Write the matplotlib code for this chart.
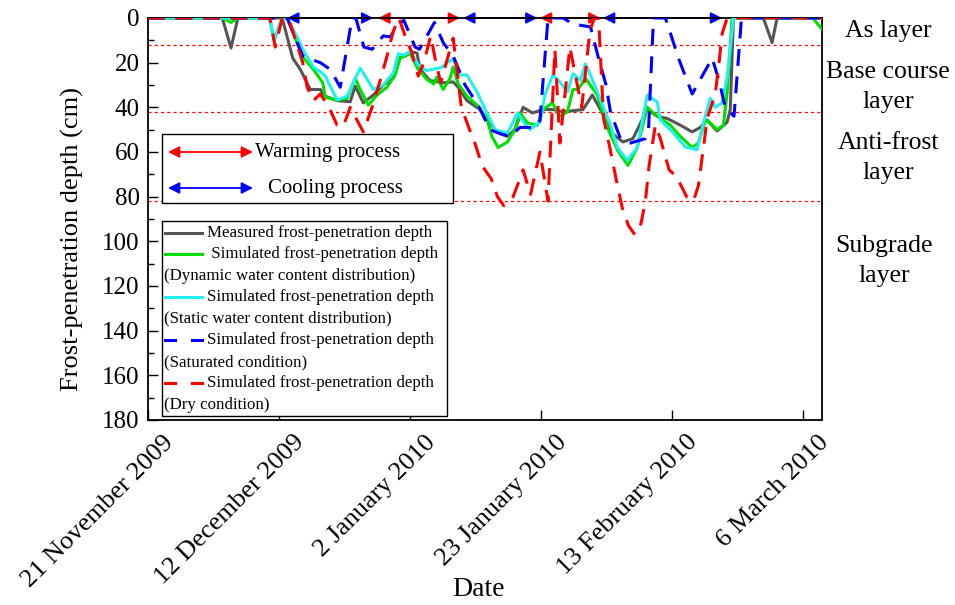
import numpy as np
import matplotlib
matplotlib.use("Agg")
import matplotlib.pyplot as plt
import matplotlib.dates as mdates
import matplotlib.transforms as mtransforms
from matplotlib.patches import Rectangle
from matplotlib.lines import Line2D

plt.rcParams['font.family'] = ['Liberation Serif', 'DejaVu Serif']

# ---------------- data (days after 21 November 2009, depth in cm) ----------------
start_date = np.datetime64('2009-11-21')
end_day = 108.0

tick_dates = ['2009-11-21', '2009-12-12', '2010-01-02', '2010-01-23', '2010-02-13', '2010-03-06']
tick_labels = ['21 November 2009', '12 December 2009', '2 January 2010',
               '23 January 2010', '13 February 2010', '6 March 2010']

layer_bounds = [12, 42, 82]
layer_names = ['As layer', 'Base course\nlayer', 'Anti-frost\nlayer', 'Subgrade\nlayer']

measured_days = [0, 11.9, 13.3, 14.4, 21.5, 23.2, 24.4, 26.0, 27.6, 28.4, 30.3, 32.4, 33.2, 34.5, 36.1,
                 37.7, 39.3, 40.1, 41.2, 42.0, 43.1, 43.6, 45.2, 47.3, 48.9, 49.7, 51.1, 53.2, 54.8, 55.9,
                 57.6, 58.8, 60.1, 61.6, 63.3, 64.9, 66.5, 69.7, 71.2, 72.5, 74.5, 76.1, 77.7, 80.0, 81.6,
                 83.2, 85.3, 87.2, 88.5, 89.6, 90.6, 91.2, 92.8, 93.3, 93.8, 98.6, 100.0, 100.8, 108.0]
measured_depth = [0, 0, 13.4, 0, 0, 18, 23, 32, 32, 35, 37, 37.5, 30.5, 38, 34.5,
                  30, 27, 18, 17, 15, 15.7, 23, 28, 29, 28.6, 31, 37, 41, 47, 51,
                  53, 50, 40, 42.5, 41, 41, 42, 41, 34.5, 41, 52, 55.5, 54, 41, 44,
                  45, 48, 51, 49, 45.7, 48.8, 50.6, 46.6, 41, 0, 0, 11, 0, 0]

dynamic_days = [0, 12.0, 13.3, 14.4, 19.5, 20.2, 21.5, 22.3, 24.8, 26.5, 28.0, 28.4, 30.3, 31.9, 33.2,
                34.0, 35.3, 36.7, 38.3, 39.6, 40.4, 42.0, 43.3, 44.7, 45.8, 46.3, 47.3, 48.4, 48.9, 49.7,
                51.1, 52.7, 53.2, 54.3, 55.1, 56.1, 57.6, 58.8, 59.6, 60.8, 62.4, 63.3, 64.8, 66.0, 67.2,
                68.1, 68.9, 70.1, 72.0, 73.6, 75.2, 76.9, 78.4, 80.0, 81.6, 83.7, 85.3, 87.2, 88.2, 89.3,
                90.1, 91.2, 92.2, 92.8, 93.6, 106.5, 108.0]
dynamic_depth = [0, 0, 2, 0, 0, 10, 0, 0, 17.5, 23, 29, 35.5, 36.7, 36, 27,
                 32, 39, 34.5, 31, 25.5, 18, 16, 23, 27.5, 29.5, 26.4, 32, 27, 22, 29.5,
                 35, 39, 41, 45, 53, 58, 55.5, 50, 42.5, 47, 48, 41, 38, 44, 42,
                 32, 32, 27, 34.5, 49, 59, 66, 58, 40, 44, 48, 53, 58, 56, 45.7,
                 47, 50, 48, 33.5, 0, 0, 5]

static_days = [0, 19.5, 20.2, 21.5, 22.3, 23.9, 24.8, 26.5, 27.6, 28.4, 30.3, 31.9, 34.0, 36.1, 37.7,
               39.3, 40.1, 41.0, 42.0, 42.8, 43.3, 44.6, 45.7, 47.1, 48.1, 48.9, 49.9, 51.1, 52.7, 53.7,
               55.6, 57.6, 59.2, 60.8, 61.2, 62.8, 63.6, 64.9, 66.0, 67.2, 68.1, 69.3, 70.1, 70.9, 72.0,
               74.1, 75.2, 76.8, 78.4, 80.0, 81.6, 82.1, 84.2, 86.1, 88.0, 89.0, 90.1, 90.9, 92.0, 92.8,
               93.8, 108.0]
static_depth = [0, 0, 10, 0, 0, 8.5, 14, 22, 24, 26, 36.7, 35, 22.4, 32, 30,
                24.6, 16, 16.6, 15, 18.4, 21, 23.5, 23, 22, 19.7, 18.4, 25.5, 25.5, 33, 39,
                50, 51.5, 42.5, 49, 50, 46.6, 34.5, 25.5, 28.7, 33, 25, 27.8, 20.6, 25.5, 33,
                48, 58, 63.6, 58, 34.5, 37.6, 45.7, 51.5, 57.8, 59, 47, 36, 40, 38, 26.4,
                0, 0]

saturated_days = [0, 22.3, 23.9, 24.8, 27.6, 29.2, 30.8, 32.7, 33.3, 34.6, 35.9, 37.7, 38.8, 40.1, 41.0,
                  42.8, 43.5, 45.9, 47.3, 48.9, 50.8, 52.9, 54.8, 56.6, 58.0, 59.6, 62.0, 62.8, 64.1,
                  66.5, 68.1, 70.9, 72.1, 73.4, 74.1, 75.7, 77.3, 79.7, 80.2, 81.0, 82.9, 83.5, 85.0,
                  87.2, 89.0, 90.4, 91.5, 92.5, 93.9, 95.1, 108.0]
saturated_depth = [0, 0, 11, 17, 20, 23, 31, 0, 0, 13, 14, 8, 8.5, 3, 1,
                   13, 14, 2, 11, 17, 30, 39, 50, 52, 53, 49, 49, 46, 0,
                   0, 2.7, 4, 17, 30, 42, 54, 56, 54, 50, 0, 0, 5, 18,
                   34, 25, 18, 28, 40, 44, 0, 0]

dry_days = [0, 19.5, 20.4, 21.5, 22.5, 24.8, 25.5, 26.5, 27.6, 29.0, 30.3, 31.3, 32.4, 34.5, 35.9,
            37.2, 38.3, 39.3, 40.2, 41.2, 42.2, 43.3, 44.2, 45.3, 46.0, 46.9, 47.9, 48.9, 50.2, 51.8,
            52.5, 53.5, 55.0, 56.0, 57.0, 58.5, 59.6, 60.1, 61.3, 62.8, 64.1, 65.2, 66.0, 67.6, 69.5,
            70.8, 71.5, 72.2, 73.0, 74.0, 75.0, 76.0, 77.0, 78.0, 79.0, 79.7, 80.3, 81.3, 82.1, 83.5,
            84.7, 86.3, 87.4, 88.2, 89.0, 89.6, 90.9, 91.5, 92.0, 92.8, 108.0]
dry_depth = [0, 0, 13, 0, 0, 20, 31, 37, 34, 40, 48, 48.5, 40, 51, 40,
             28, 17, 6, 0, 8, 15, 26, 20, 8, 18, 29, 19, 9, 40, 52,
             57, 66, 72, 80, 84, 80, 72, 68, 79, 60, 82, 14, 56, 13, 40,
             6, 0, 0, 45, 58, 72, 85, 93, 97, 92, 82, 66, 48, 54, 68,
             71, 80, 82, 75, 58, 45, 34, 20, 7, 0, 0]

warming_periods = [(36.9, 50.0), (62.8, 72.5)]
cooling_periods = [(22.3, 36.1), (50.5, 62.4), (72.9, 92.0)]

# ---------------- figure ----------------
W, H = 955, 605
fig = plt.figure(figsize=(W / 100, H / 100), dpi=100)
L, R, T, B = 148, 822, 18, 420
ax = fig.add_axes([L / W, 1 - B / H, (R - L) / W, (B - T) / H])

base = mdates.date2num(start_date)


def X(days):
    return base + np.asarray(days, dtype=float)


for d in layer_bounds:
    ax.axhline(d, color='red', lw=0.9, ls=(0, (2.5, 2.5)), zorder=1)

arrow_kw = dict(arrowstyle='<|-|>', lw=1.3, mutation_scale=17, shrinkA=0, shrinkB=0)
for s, e in warming_periods:
    ax.annotate('', xy=(X(e), 0), xytext=(X(s), 0),
                arrowprops=dict(color='red', **arrow_kw), annotation_clip=False, zorder=1.5)
for s, e in cooling_periods:
    ax.annotate('', xy=(X(e), 0), xytext=(X(s), 0),
                arrowprops=dict(color='blue', **arrow_kw), annotation_clip=False, zorder=1.5)

c_meas, c_dyn, c_sta, c_sat, c_dry = '#555555', '#00e000', '#22f0f0', '#0000ff', '#ff0000'
dash = (0, (5.5, 3.5))
ax.plot(X(measured_days), measured_depth, color=c_meas, lw=2.2, zorder=3)
ax.plot(X(dynamic_days), dynamic_depth, color=c_dyn, lw=2.2, zorder=3)
ax.plot(X(static_days), static_depth, color=c_sta, lw=2.2, zorder=3)
ax.plot(X(saturated_days), saturated_depth, color=c_sat, lw=2.2, ls=dash, zorder=3)
ax.plot(X(dry_days), dry_depth, color=c_dry, lw=2.2, ls=dash, zorder=3)

ax.set_xlim(base, base + end_day)
ax.set_ylim(180, 0)
ax.set_yticks(np.arange(0, 181, 20))
ax.set_yticks(np.arange(10, 180, 20), minor=True)
ax.set_xticks(mdates.date2num(np.array(tick_dates, dtype='datetime64[D]')))
ax.set_xticklabels(tick_labels, rotation=45, ha='right', va='top', rotation_mode='anchor')
ax.tick_params(axis='both', which='major', direction='in', length=7, width=1.0)
ax.tick_params(axis='y', which='major', labelsize=18, pad=6)
ax.tick_params(axis='x', which='major', labelsize=19, pad=8)
ax.tick_params(axis='y', which='minor', direction='in', length=4, width=1.0)
shift = mtransforms.ScaledTranslation(14 / 100, 0, fig.dpi_scale_trans)
for lab in ax.get_xticklabels():
    lab.set_transform(lab.get_transform() + shift)
for sp in ax.spines.values():
    sp.set_linewidth(1.3)

fig.text(72 / W, 1 - 239 / H, 'Frost-penetration depth (cm)', fontsize=19, rotation=90,
         ha='center', va='center')
fig.text(478 / W, 1 - 590 / H, 'Date', fontsize=20, ha='center', va='center')


# ---------- helpers in axes pixel space ----------
def ax_xy(px, py):
    return ((px - L) / (R - L), (B - py) / (B - T))


def box(x0, y0, x1, y1):
    (ax0, ay1), (ax1, ay0) = ax_xy(x0, y0), ax_xy(x1, y1)
    ax.add_patch(Rectangle((ax0, ay0), ax1 - ax0, ay1 - ay0, transform=ax.transAxes,
                           facecolor='white', edgecolor='black', lw=1.0, zorder=5))


# Process legend
box(162, 134, 453, 203)
for (py, col, label, tx) in [(152, 'red', 'Warming process', 255), (188, 'blue', 'Cooling process', 268)]:
    ax.annotate('', xy=ax_xy(253, py), xytext=ax_xy(168, py), xycoords='axes fraction',
                textcoords='axes fraction', arrowprops=dict(color=col, **arrow_kw), zorder=6)
    ax.text(*ax_xy(tx, py), label, transform=ax.transAxes, fontsize=15, ha='left', va='center', zorder=6)

# Series legend
box(162, 221, 447, 416)
rows = [233, 254, 276, 297, 318, 340, 362, 383, 405]
entries = [
    (c_meas, '-', 'Measured frost-penetration depth', None),
    (c_dyn, '-', ' Simulated frost-penetration depth', '(Dynamic water content distribution)'),
    (c_sta, '-', 'Simulated frost-penetration depth', '(Static water content distribution)'),
    (c_sat, '--', 'Simulated frost-penetration depth', '(Saturated condition)'),
    (c_dry, '--', 'Simulated frost-penetration depth', '(Dry condition)'),
]
ri = 0
for col, st, l1, l2 in entries:
    py = rows[ri]
    segs = [(165, 202)] if st == '-' else [(165, 175), (192, 202)]
    for a, b in segs:
        (xa, ya), (xb, yb) = ax_xy(a, py), ax_xy(b, py)
        ax.add_line(Line2D([xa, xb], [ya, yb], transform=ax.transAxes, color=col, lw=2.2, zorder=6))
    ax.text(*ax_xy(207, py), l1, transform=ax.transAxes, fontsize=12.2, ha='left', va='center', zorder=6)
    ri += 1
    if l2:
        ax.text(*ax_xy(164, rows[ri]), l2, transform=ax.transAxes, fontsize=12.2, ha='left',
                va='center', zorder=6)
        ri += 1

# Layer names on the right
for name, (px, py) in zip(layer_names, [(888, 31), (888, 87), (888, 158), (884, 261)]):
    fig.text(px / W, 1 - py / H, name, fontsize=18.5, ha='center', va='center', linespacing=1.42)

fig.savefig('out.png', dpi=100)
